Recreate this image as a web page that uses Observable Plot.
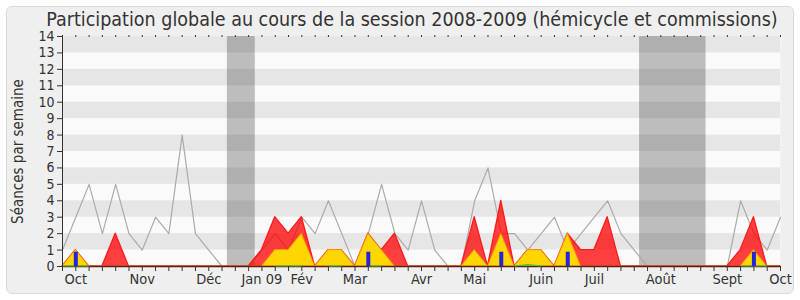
<!DOCTYPE html>
<html><head><meta charset="utf-8">
<script src="https://cdn.jsdelivr.net/npm/d3@7"></script>
<script src="https://cdn.jsdelivr.net/npm/@observablehq/plot@0.6"></script>
<style>
body{margin:0;background:#fff;}
#wrap{position:relative;width:800px;height:300px;overflow:hidden;font-family:"DejaVu Sans Condensed","DejaVu Sans",sans-serif;font-stretch:condensed;}
#card{position:absolute;left:6px;top:6px;width:788px;height:288px;border:1px solid #d8d8d8;border-radius:6px;background:#efefef;box-sizing:border-box;}
#title{position:absolute;left:24px;width:776px;top:10px;text-align:center;font-size:19.5px;line-height:19px;color:#333;white-space:nowrap;}
#chart{position:absolute;left:0;top:20px;}
</style></head><body>
<div id="wrap"><div id="card"></div><div id="title"></div><div id="chart"></div></div>
<script>
const title = "Participation globale au cours de la session 2008-2009 (hémicycle et commissions)";
const yLabel = "Séances par semaine";
const weeks = d3.range(55);
const yTicks = [0,1,2,3,4,5,6,7,8,9,10,11,12,13,14];
const monthLabels = ["Oct","Nov","Déc","Jan 09","Fév","Mar","Avr","Mai","Juin","Juil","Août","Sept","Oct"];
const monthPos = [1,6,11,15,18,22,27,31,36,40,45,50,54];
const vacStart = [12.4, 43.4];
const vacEnd = [14.5, 48.4];
// total sessions per week (grey line)
const total = [1,3,5,2,5,2,1,3,2,8,2,1,0,0,0, 1,2,1,3,2,4,2,0,2,5, 2,1,4,1,0,0,4,6,2,2, 1,2,3,1,2,3,4,2,1,0, 0,0,0,0,0,0,4,2,1,3];
// presence (red area)
const presence = [0,1,0,0,2,0,0,0,0,0,0,0,0,0,0, 1,3,2,3,0,1,1,0,2,1, 2,0,0,0,0,0,3,0,4,0, 1,1,0,2,1,1,3,0,0,0, 0,0,0,0,0,0,1,3,0,0];
// participation (yellow area)
const participation = [0,1,0,0,0,0,0,0,0,0,0,0,0,0,0, 0,1,1,2,0,1,1,0,2,1, 0,0,0,0,0,0,1,0,2,0, 1,1,0,2,0,0,0,0,0,0, 0,0,0,0,0,0,0,1,0,0];
// green line
const green = [0.03,0.03,0.03,null,null,null,null,null,null,null,null,null,null,null,null, null,0.03,0.03,0.03,null,0.03,0.03,null,0.03,0.03, null,null,null,null,null,null,null,null,null,0.03, 0.12,0.03,null,null,null,null,null,null,null,null, null,null,null,null,null,null,0.03,0.03,0.03,null];
// blue bars
const blueWeeks = [1,23,33,38,52];
const blueVals = [0.87,0.87,0.87,0.87,0.87];

document.getElementById("title").textContent = title;
const font = '"DejaVu Sans Condensed","DejaVu Sans",sans-serif';
const stripes = yTicks.filter(v => v % 2 === 1 && v < 14);
const vac = vacStart.map((s, i) => ({s, e: vacEnd[i]}));
const blue = blueWeeks.map((w, i) => ({w, v: blueVals[i]}));
const x0 = weeks[0], x1 = weeks[weeks.length - 1];
const yMax = yTicks[yTicks.length - 1];

const chart = Plot.plot({
  width: 800, height: 280,
  marginLeft: 62, marginRight: 20, marginTop: 16, marginBottom: 34,
  x: {domain: [x0, x1], axis: null},
  y: {domain: [0, yMax], axis: null},
  style: {background: "transparent", fontFamily: font, fontSize: "14px", color: "#333", fontStretch: "condensed", overflow: "visible"},
  marks: [
    Plot.frame({fill: "#fafafa", stroke: null}),
    Plot.rect(stripes, {x1: () => x0, x2: () => x1, y1: d => d, y2: d => d + 1, fill: "#e6e6e6"}),
    Plot.rect(vac, {x1: "s", x2: "e", y1: () => 0, y2: () => yMax, fill: "#333", fillOpacity: 0.3}),
    Plot.line(weeks, {x: d => d, y: d => total[d], stroke: "#ababab", strokeWidth: 1.2}),
    Plot.areaY(weeks, {x: d => d, y: d => presence[d], fill: "#ff0000", fillOpacity: 0.75, stroke: "#ff1a1a", strokeWidth: 1.3}),
    Plot.areaY(weeks, {x: d => d, y: d => participation[d], fill: "#ffd700", stroke: "#ff9a00", strokeOpacity: 0.5, strokeWidth: 1.3}),
    Plot.ruleY([0], {stroke: "#5b1e12", strokeWidth: 1.5}),
    Plot.line(weeks, {x: d => d, y: d => green[d] ?? NaN, stroke: "#3cc83c", strokeWidth: 1.2}),
    Plot.ruleX(blue, {x: "w", y1: () => 0, y2: "v", stroke: "#2424dd", strokeWidth: 4}),
    Plot.ruleX([x0], {y1: () => 0, y2: () => yMax, stroke: "#333"}),
    Plot.axisY(yTicks, {anchor: "left", label: null, tickSize: 5, tickPadding: 3, stroke: "#333", fontSize: 14}),
    Plot.axisX(weeks, {anchor: "bottom", label: null, tickSize: 5, tickFormat: () => "", stroke: "#333"}),
    Plot.axisX(weeks, {anchor: "top", label: null, tickSize: 2, tickFormat: () => "", stroke: "#333"}),
    Plot.axisX(monthPos, {anchor: "bottom", label: null, tickSize: 0, tickPadding: 7, fontSize: 14.5, tickFormat: d => monthLabels[monthPos.indexOf(d)]}),
    Plot.text([yLabel], {frameAnchor: "left", dx: -44, rotate: -90, textAnchor: "middle", text: d => d, fontSize: 15, fill: "#333"})
  ]
});
document.getElementById("chart").appendChild(chart);
</script>
</body></html>
